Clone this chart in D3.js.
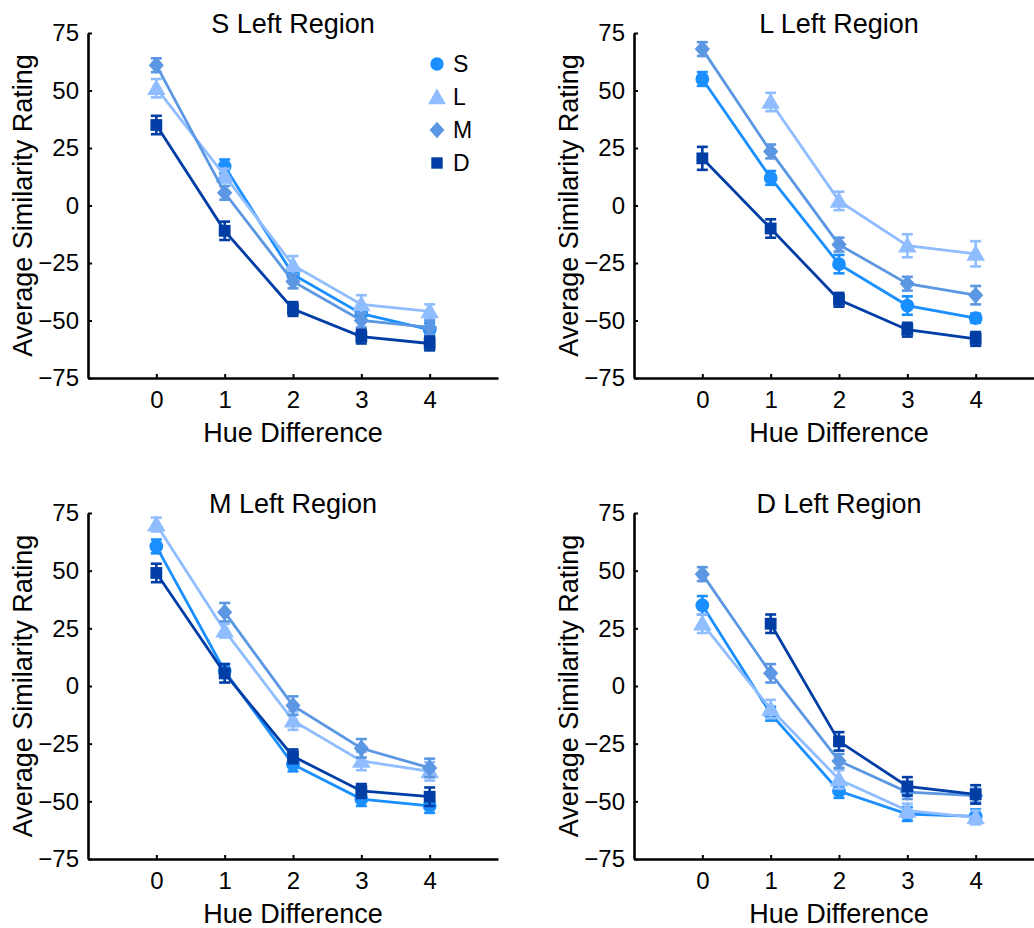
<!DOCTYPE html>
<html>
<head>
<meta charset="utf-8">
<script src="https://cdn.jsdelivr.net/npm/d3@7"></script>
<style>
  body { margin: 0; background: #fff; }
  text { font-family: "Liberation Sans", Arial, Helvetica, sans-serif; }
</style>
</head>
<body>
<svg id="chart" width="1034" height="928"></svg>
<script>
// ---- data ----
const hueDiff = [0, 1, 2, 3, 4];
const seriesNames = ["S", "L", "M", "D"];
const panelTitles = ["S Left Region", "L Left Region", "M Left Region", "D Left Region"];
const yTicks = [75, 50, 25, 0, -25, -50, -75];

// S Left Region
const sLeftS = [null, 17, -30, -47, -54];
const sLeftL = [51, 13, -26, -43, -46];
const sLeftM = [61, 5.5, -33, -50, -53];
const sLeftD = [35, -11, -45, -57, -60];
const sLeftErrS = [0, 3, 3, 3, 3];
const sLeftErrL = [4, 3, 4, 4, 3];
const sLeftErrM = [3, 3, 3, 3, 3];
const sLeftErrD = [4, 4, 3, 3, 3];

// L Left Region
const lLeftS = [55, 12, -25.5, -43.5, -49];
const lLeftL = [null, 45, 2, -17.5, -21];
const lLeftM = [68, 23.5, -17, -34, -39];
const lLeftD = [20.5, -10, -41, -54, -58];
const lLeftErrS = [3, 3, 4, 4, 2];
const lLeftErrL = [0, 4, 4, 5, 5.5];
const lLeftErrM = [3, 3, 3, 3, 4];
const lLeftErrD = [5, 4, 3, 3, 3];

// M Left Region
const mLeftS = [60.5, 6.5, -34, -49, -52];
const mLeftL = [70, 24, -15, -32.5, -37];
const mLeftM = [null, 32, -8.5, -27, -35.5];
const mLeftD = [49, 5.5, -30.5, -45.5, -48];
const mLeftErrS = [3, 3, 3, 3, 3];
const mLeftErrL = [3, 3, 4, 4, 4];
const mLeftErrM = [0, 4, 4, 4, 4];
const mLeftErrD = [4, 4, 3, 3, 4];

// D Left Region
const dLeftS = [35, -12, -45.5, -55.5, -56.5];
const dLeftL = [27, -10, -40.5, -54, -57];
const dLeftM = [48.5, 5.5, -32.5, -46, -47.5];
const dLeftD = [null, 27, -24, -43.5, -47];
const dLeftErrS = [4, 3, 3, 3, 3];
const dLeftErrL = [4, 4, 4, 3, 3];
const dLeftErrM = [3, 4, 3, 3, 3];
const dLeftErrD = [0, 4, 4, 4, 4];

const seriesColors = ["#1a8fff", "#8fbdff", "#5b97e2", "#003ea6"];

// taller diamond like the MATLAB marker
const diamondTall = {
  draw(ctx, s) {
    const r = Math.sqrt(s);
    ctx.moveTo(0, -r * 0.62);
    ctx.lineTo(r * 0.55, 0);
    ctx.lineTo(0, r * 0.62);
    ctx.lineTo(-r * 0.55, 0);
    ctx.closePath();
  }
};
const seriesSymbols = [d3.symbolCircle, d3.symbolTriangle, diamondTall, d3.symbolSquare];
const symbolSizes = [150, 150, 190, 140];

const panelData = [
  { values: [sLeftS, sLeftL, sLeftM, sLeftD], errs: [sLeftErrS, sLeftErrL, sLeftErrM, sLeftErrD] },
  { values: [lLeftS, lLeftL, lLeftM, lLeftD], errs: [lLeftErrS, lLeftErrL, lLeftErrM, lLeftErrD] },
  { values: [mLeftS, mLeftL, mLeftM, mLeftD], errs: [mLeftErrS, mLeftErrL, mLeftErrM, mLeftErrD] },
  { values: [dLeftS, dLeftL, dLeftM, dLeftD], errs: [dLeftErrS, dLeftErrL, dLeftErrM, dLeftErrD] }
];

// ---- layout ----
const svg = d3.select("#chart");
const panelW = 410;
const panelPos = [
  { x: 88, top: 33, bottom: 378 },
  { x: 634, top: 33, bottom: 378 },
  { x: 88, top: 513, bottom: 859 },
  { x: 634, top: 513, bottom: 859 }
];

panelData.forEach((pd, p) => {
  const pos = panelPos[p];
  const h = pos.bottom - pos.top;

  const g = svg.append("g")
    .attr("transform", `translate(${pos.x},${pos.top})`);

  const x = d3.scaleLinear().domain([-1, 5]).range([0, panelW]);
  const y = d3.scaleLinear().domain([-75, 75]).range([h, 0]);

  // y axis
  const yAx = g.append("g")
    .call(d3.axisLeft(y).tickValues(yTicks).tickFormat(d3.format("d"))
      .tickSizeInner(-4).tickSizeOuter(0).tickPadding(9));
  yAx.select(".domain").attr("stroke", "#000").attr("stroke-width", 2.6);
  yAx.selectAll(".tick line").attr("stroke", "#000").attr("stroke-width", 2);
  yAx.selectAll(".tick text").style("font-size", "24px").attr("fill", "#000");

  // x axis
  const xAx = g.append("g")
    .attr("transform", `translate(0,${h})`)
    .call(d3.axisBottom(x).tickValues(hueDiff).tickFormat(d3.format("d"))
      .tickSizeInner(-4).tickSizeOuter(0).tickPadding(13));
  xAx.select(".domain").attr("stroke", "#000").attr("stroke-width", 2.6);
  xAx.selectAll(".tick line").attr("stroke", "#000").attr("stroke-width", 2);
  xAx.selectAll(".tick text").style("font-size", "24px").attr("fill", "#000");

  // labels
  g.append("text")
    .attr("x", panelW / 2)
    .attr("y", h + 64)
    .attr("text-anchor", "middle")
    .style("font-size", "27px")
    .text("Hue Difference");

  g.append("text")
    .attr("transform", `translate(-56,${h / 2}) rotate(-90)`)
    .attr("text-anchor", "middle")
    .style("font-size", "27px")
    .text("Average Similarity Rating");

  g.append("text")
    .attr("x", panelW / 2)
    .attr("y", 0)
    .attr("text-anchor", "middle")
    .style("font-size", "27px")
    .text(panelTitles[p]);

  // series
  seriesNames.forEach((name, i) => {
    const pts = hueDiff.map((hd, k) => ({ x: hd, v: pd.values[i][k], e: pd.errs[i][k] }))
      .filter(d => d.v !== null);
    const col = seriesColors[i];
    const sg = g.append("g").attr("class", "series-" + name);

    const line = d3.line().x(d => x(d.x)).y(d => y(d.v));
    sg.append("path")
      .datum(pts)
      .attr("d", line)
      .attr("fill", "none")
      .attr("stroke", col)
      .attr("stroke-width", 2.8);

    // error bars
    const eb = sg.selectAll(".eb").data(pts).enter().append("g").attr("class", "eb");
    eb.append("line")
      .attr("x1", d => x(d.x)).attr("x2", d => x(d.x))
      .attr("y1", d => y(d.v - d.e)).attr("y2", d => y(d.v + d.e))
      .attr("stroke", col).attr("stroke-width", 2.6);
    [1, -1].forEach(sgn => {
      eb.append("line")
        .attr("x1", d => x(d.x) - 5.5).attr("x2", d => x(d.x) + 5.5)
        .attr("y1", d => y(d.v + sgn * d.e)).attr("y2", d => y(d.v + sgn * d.e))
        .attr("stroke", col).attr("stroke-width", 2.6);
    });

    // markers
    sg.selectAll(".mk").data(pts).enter().append("path")
      .attr("class", "mk")
      .attr("transform", d => `translate(${x(d.x)},${y(d.v) + (i === 1 ? 1.5 : 0)})`)
      .attr("d", d3.symbol().type(seriesSymbols[i]).size(symbolSizes[i]))
      .attr("fill", col);
  });

  // legend only in the first panel
  if (p === 0) {
    const legend = g.append("g").attr("transform", `translate(${437 - pos.x},${64 - pos.top})`);
    const items = legend.selectAll(".legend-item")
      .data(seriesNames)
      .enter()
      .append("g")
      .attr("class", "legend-item")
      .attr("transform", (d, i) => `translate(0,${i * 33})`);
    items.append("path")
      .attr("transform", (d, i) => `translate(0,${i === 1 ? 2 : 0})`)
      .attr("d", (d, i) => d3.symbol().type(seriesSymbols[i]).size(symbolSizes[i] - 10)())
      .attr("fill", (d, i) => seriesColors[i]);
    items.append("text")
      .attr("x", 16)
      .attr("y", 0)
      .attr("dy", "0.36em")
      .style("font-size", "23px")
      .text(d => d);
  }
});
</script>
</body>
</html>
